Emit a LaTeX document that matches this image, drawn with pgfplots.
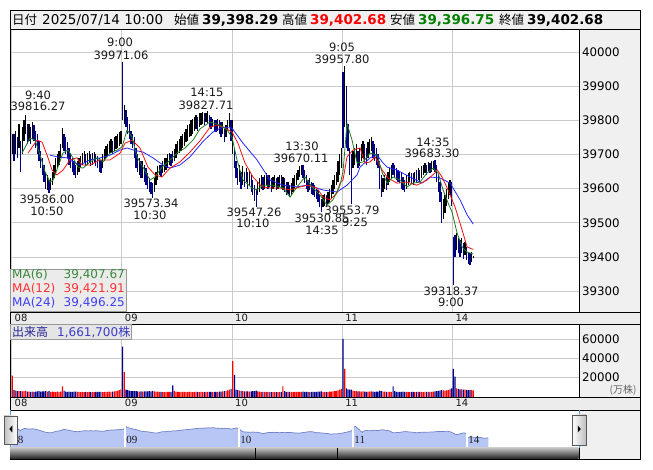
\documentclass[border=0pt]{standalone}
\usepackage{fontspec}
\setmainfont{DejaVu Sans}
\newfontfamily\jp{Noto Sans CJK JP}
\newfontfamily\ser{Liberation Serif}
\usepackage{pgfplots}
\usepackage{pgfplotstable}
\pgfplotsset{compat=1.18}

\definecolor{navy}{HTML}{000080}
\definecolor{volred}{HTML}{FF0000}
\definecolor{volblue}{HTML}{00008C}
\definecolor{maG}{HTML}{1F7A1F}
\definecolor{maR}{HTML}{F01010}
\definecolor{maB}{HTML}{2424FF}
\definecolor{panel}{HTML}{F0F0F0}
\definecolor{strip}{HTML}{ECECEC}
\definecolor{gridc}{HTML}{CACACA}
\definecolor{areaf}{HTML}{B8C6F6}
\definecolor{areal}{HTML}{7080C4}
\definecolor{txt}{HTML}{1A1A1A}
\definecolor{upg}{HTML}{008000}
\definecolor{legG}{HTML}{3A8A3A}
\definecolor{legR}{HTML}{FF3030}
\definecolor{legB}{HTML}{4040F0}
\definecolor{volt}{HTML}{282896}
\definecolor{volv}{HTML}{3C3CC8}

\newcommand\ann{\fontsize{11.5}{12}\selectfont}

% i = 5-minute bar index (66 bars per day), c = 1 up / 0 down, v = volume
\pgfplotstableread{
i lo hi c v
0 39700 39760 1 22000
1 39680 39760 0 7000
2 39700 39770 1 6500
3 39690 39750 0 6000
4 39720 39790 1 6000
5 39650 39740 0 6200
6 39700 39780 1 5800
7 39740 39800 1 6000
8 39760 39816 1 6300
9 39730 39790 0 5600
10 39740 39790 1 5500
11 39730 39780 0 5400
12 39745 39795 1 5600
13 39740 39785 0 5200
14 39720 39770 0 5500
15 39700 39760 0 5800
16 39680 39740 0 6000
17 39660 39710 0 5600
18 39640 39690 0 5900
19 39620 39670 0 5700
20 39600 39650 0 6100
21 39595 39640 1 5500
22 39586 39625 0 6000
23 39595 39630 1 5300
24 39610 39650 1 5600
25 39630 39670 1 5400
26 39645 39690 1 5200
27 39660 39700 1 5500
28 39670 39710 1 5300
29 39690 39730 1 5600
30 39720 39778 1 11000
31 39710 39760 0 6500
32 39700 39750 0 5600
33 39690 39735 0 5400
34 39670 39720 0 5500
35 39660 39705 0 5300
36 39650 39690 0 5400
37 39640 39680 0 5500
38 39632 39670 0 5600
39 39640 39680 1 5200
40 39650 39690 1 5300
41 39660 39695 1 5100
42 39670 39705 1 5200
43 39675 39710 1 5000
44 39665 39700 0 5300
45 39670 39705 1 5100
46 39675 39710 1 5200
47 39665 39700 0 5000
48 39670 39705 1 5300
49 39675 39708 1 5100
50 39665 39700 0 5200
51 39660 39695 0 5400
52 39650 39690 0 5200
53 39645 39685 0 5300
54 39660 39700 1 5100
55 39680 39715 1 5200
56 39690 39725 1 5400
57 39695 39730 1 5300
58 39700 39740 1 5500
59 39705 39745 1 5200
60 39700 39740 0 5600
61 39710 39750 1 5800
62 39715 39755 1 6000
63 39720 39760 1 6400
64 39725 39765 1 7000
65 39730 39770 1 8000
66 39800 39971 0 52000
67 39790 39845 1 26000
68 39780 39830 0 7500
69 39760 39810 0 7000
70 39745 39790 0 6500
71 39730 39770 0 6000
72 39720 39760 0 6000
73 39690 39750 0 6200
74 39660 39720 0 6000
75 39650 39700 0 5800
76 39640 39690 1 5600
77 39630 39680 0 5900
78 39630 39680 1 5600
79 39620 39670 0 5800
80 39610 39660 0 5700
81 39600 39645 0 5900
82 39590 39630 0 6000
83 39585 39620 0 5800
84 39573 39615 0 6100
85 39590 39630 1 5700
86 39610 39650 1 5600
87 39625 39665 1 5500
88 39640 39670 1 5300
89 39635 39670 0 5200
90 39645 39680 1 5300
91 39650 39690 1 5100
92 39655 39690 1 5200
93 39660 39700 1 5300
94 39670 39705 1 5400
95 39665 39700 0 5200
96 39675 39710 0 12000
97 39680 39715 1 6200
98 39690 39730 1 5500
99 39700 39740 1 5300
100 39705 39745 1 5200
101 39710 39755 1 5400
102 39720 39760 1 5300
103 39725 39765 1 5200
104 39735 39775 1 5100
105 39740 39785 1 5300
106 39750 39790 1 5200
107 39755 39800 1 5400
108 39760 39805 1 5100
109 39770 39810 1 5300
110 39775 39815 1 5200
111 39770 39810 0 5400
112 39780 39820 1 5100
113 39785 39820 1 5200
114 39790 39825 1 5300
115 39785 39820 0 5000
116 39795 39822 1 5200
117 39790 39828 1 5400
118 39780 39815 0 5300
119 39775 39810 0 5200
120 39780 39805 1 5000
121 39770 39800 0 5300
122 39765 39800 0 5400
123 39770 39805 1 5200
124 39760 39800 0 5500
125 39750 39795 0 5600
126 39760 39795 1 5800
127 39735 39775 0 6000
128 39750 39785 1 6300
129 39770 39800 1 6800
130 39780 39821 1 7500
131 39740 39800 0 8500
132 39700 39800 1 37000
133 39660 39720 0 23000
134 39630 39680 0 7500
135 39610 39660 0 7000
136 39620 39670 1 6500
137 39600 39650 0 6300
138 39610 39665 1 6000
139 39605 39650 0 5900
140 39620 39660 1 5800
141 39600 39650 0 5700
142 39610 39655 1 5600
143 39590 39640 0 5800
144 39580 39625 0 6000
145 39565 39610 0 6200
146 39547 39600 0 6500
147 39580 39620 1 5800
148 39590 39630 1 5600
149 39600 39640 1 5400
150 39595 39635 0 5300
151 39600 39640 1 5200
152 39610 39645 1 5300
153 39600 39640 0 5100
154 39605 39640 1 5200
155 39590 39630 0 5000
156 39600 39635 1 5100
157 39605 39640 1 5200
158 39595 39630 0 5000
159 39600 39635 1 5100
160 39605 39640 1 5000
161 39600 39640 0 5200
162 39595 39635 1 11000
163 39590 39630 0 6000
164 39580 39620 0 5300
165 39585 39620 1 5200
166 39575 39610 0 5400
167 39580 39615 1 5200
168 39590 39630 1 5100
169 39600 39640 1 5200
170 39610 39645 1 5300
171 39625 39655 1 5400
172 39635 39665 1 5300
173 39640 39668 1 5200
174 39630 39670 0 5500
175 39615 39655 0 5400
176 39600 39640 0 5300
177 39590 39625 0 5200
178 39595 39630 1 5100
179 39585 39620 0 5200
180 39580 39615 0 5300
181 39575 39610 0 5200
182 39570 39600 0 5400
183 39560 39595 0 5500
184 39545 39585 0 5600
185 39531 39570 0 5800
186 39545 39580 1 5400
187 39550 39585 1 5300
188 39545 39580 0 5200
189 39555 39590 1 5400
190 39560 39600 1 5500
191 39570 39610 1 5600
192 39585 39625 1 5800
193 39600 39640 1 6000
194 39610 39650 1 6300
195 39620 39680 1 6800
196 39640 39700 1 7500
197 39660 39720 1 8500
198 39720 39940 0 60000
199 39780 39958 1 29000
200 39720 39900 0 9000
201 39710 39790 0 8000
202 39640 39720 0 7500
203 39554 39700 0 7500
204 39660 39710 1 6500
205 39670 39720 1 6200
206 39680 39730 1 6000
207 39660 39710 0 5800
208 39665 39720 1 5700
209 39680 39730 1 5600
210 39690 39740 1 5800
211 39680 39730 0 5500
212 39670 39720 0 5400
213 39690 39735 1 5500
214 39700 39745 1 5600
215 39710 39750 1 5700
216 39690 39740 0 5500
217 39680 39730 0 5400
218 39670 39720 0 5500
219 39660 39700 0 5600
220 39600 39680 0 6500
221 39575 39640 0 6200
222 39590 39630 1 5600
223 39600 39640 1 5500
224 39595 39635 0 5400
225 39610 39650 1 5300
226 39620 39660 1 5200
227 39630 39670 1 5300
228 39640 39675 0 11000
229 39630 39670 0 6200
230 39625 39660 0 5300
231 39620 39655 0 5200
232 39615 39650 0 5300
233 39600 39645 0 5400
234 39595 39635 0 5500
235 39590 39625 0 5300
236 39600 39640 1 5200
237 39610 39645 1 5300
238 39620 39650 1 5100
239 39615 39645 0 5200
240 39610 39645 0 5300
241 39620 39650 1 5100
242 39615 39655 0 5200
243 39625 39660 1 5300
244 39620 39655 0 5200
245 39630 39665 1 5300
246 39640 39670 1 5100
247 39645 39675 1 5200
248 39640 39670 0 5300
249 39650 39678 1 5200
250 39645 39675 0 5400
251 39650 39680 1 5300
252 39655 39680 1 5500
253 39650 39683 0 5700
254 39620 39670 0 6000
255 39590 39640 0 6300
256 39560 39620 0 6500
257 39500 39590 0 7000
258 39510 39570 1 6800
259 39530 39580 1 6500
260 39550 39600 1 6800
261 39570 39620 1 7200
262 39580 39625 1 7800
263 39550 39620 0 9000
264 39318 39458 0 29000
265 39400 39465 0 21000
266 39420 39470 1 9000
267 39410 39455 0 8500
268 39400 39450 0 8000
269 39410 39455 1 7800
270 39395 39440 0 7500
271 39405 39445 1 7600
272 39390 39430 0 7400
273 39380 39415 0 7200
274 39375 39410 0 7300
275 39385 39415 1 7000
276 39396 39403 1 6800
}\pricedata

\pgfplotsset{
  panelaxis/.style={
    anchor=south west, scale only axis, width=569pt,
    xmin=-0.9, xmax=339.8,
    axis line style={draw=none}, tick style={draw=none}, major tick length=0pt,
    xtick={0,66,132,198,264}, xticklabels={08,09,10,11,14},
    xticklabel style={anchor=west, inner sep=0pt, xshift=3pt, yshift=-6pt, text=txt,
      font=\fontsize{10}{10}\selectfont},
    ytick pos=right,
    yticklabel style={anchor=west, inner sep=0pt, xshift=3pt, text=black,
      font=\fontsize{11.8}{12}\selectfont},
    /pgf/number format/assume math mode=true, /pgf/number format/1000 sep={},
    scaled y ticks=false,
    xmajorgrids, ymajorgrids, grid style={gridc, line width=0.6pt},
  },
  candle/.style={draw=none, mark=none,
    restrict expr to domain={\thisrow{c}}{#1:#1},
    error bars/y dir=plus, error bars/y explicit, error bars/error mark=none},
}

\begin{document}
\begin{tikzpicture}
\begin{scope}[x=1pt, y=1pt]
\path (0,0) rectangle (653,470);
% backgrounds
\fill[panel] (10,441) rectangle (640,460);
\fill[panel] (579,158) rectangle (640,441);
\fill[strip] (10,146) rectangle (640,158);
\fill[panel] (579,73) rectangle (640,146);
\fill[strip] (10,60) rectangle (640,73);
\fill[panel] (579,11) rectangle (640,60);
\end{scope}

% price panel
\begin{axis}[panelaxis, at={(10pt,158pt)}, height=283pt,
    ymin=39238.7, ymax=40067.3, ytick={39300,39400,...,40000}]
  \addplot[candle=1, error bars/error bar style={draw=black, line width=1.3pt}]
    table[x expr=\thisrow{i}+0.5, y=lo, y error expr=\thisrow{hi}-\thisrow{lo}] {\pricedata};
  \addplot[candle=0, error bars/error bar style={draw=navy, line width=1.3pt}]
    table[x expr=\thisrow{i}+0.5, y=lo, y error expr=\thisrow{hi}-\thisrow{lo}] {\pricedata};
  \addplot[black, line width=1.3pt] coordinates {(-0.5,39200) (-0.5,39680)};
  % MA(24)
  \addplot[maB, line width=0.8pt] table {
    x y
    23.1 39698
    27.2 39693
    33.2 39690
    36.8 39678
    41.0 39669
    47.0 39684
    53.0 39690
    59.0 39698
    65.0 39713
    69.2 39719
    72.8 39713
    78.7 39707
    84.7 39690
    90.7 39669
    94.9 39660
    100.9 39669
    106.9 39693
    114.7 39738
    120.7 39766
    126.6 39780
    132.0 39777
    138.6 39733
    147.0 39684
    154.8 39625
    162.6 39610
    171.0 39605
    176.9 39610
    186.5 39596
    194.9 39590
    200.9 39610
    206.9 39640
    208.7 39663
    214.7 39690
    218.9 39698
    222.5 39675
    224.9 39663
    230.8 39654
    238.6 39634
    245.8 39616
    250.6 39634
    256.6 39631
    262.6 39616
    268.6 39567
    272.8 39523
    276.5 39496
  };
  % MA(12)
  \addplot[maR, line width=0.8pt] table {
    x y
    9.9 39704
    15.3 39742
    18.3 39736
    21.3 39698
    24.3 39654
    27.2 39640
    30.8 39654
    35.0 39684
    39.2 39690
    42.2 39669
    47.0 39669
    53.0 39684
    59.0 39684
    65.0 39704
    68.0 39733
    72.2 39742
    76.9 39719
    81.7 39663
    85.9 39640
    90.1 39634
    94.9 39660
    100.9 39678
    106.9 39707
    112.9 39740
    118.9 39780
    123.1 39786
    126.6 39780
    132.0 39766
    135.6 39733
    139.8 39675
    144.6 39634
    150.0 39605
    154.8 39602
    160.8 39602
    166.8 39596
    172.8 39605
    177.5 39610
    182.9 39602
    186.5 39575
    190.7 39567
    194.9 39587
    196.7 39616
    198.5 39625
    200.9 39693
    204.5 39713
    208.7 39719
    211.7 39675
    214.7 39678
    217.7 39693
    222.0 39654
    225.4 39631
    230.8 39616
    236.8 39619
    242.8 39610
    248.8 39625
    253.6 39646
    254.8 39655
    257.8 39634
    261.4 39596
    265.6 39546
    269.8 39479
    272.8 39429
    276.5 39422
  };
  % MA(6)
  \addplot[maG, line width=0.8pt] table {
    x y
    6.3 39704
    11.1 39748
    14.1 39742
    17.1 39698
    20.1 39649
    23.1 39619
    24.9 39625
    27.8 39663
    30.8 39704
    33.8 39713
    36.8 39690
    39.8 39663
    42.8 39660
    47.0 39678
    51.2 39690
    54.8 39678
    59.0 39704
    63.2 39713
    66.2 39722
    69.2 39772
    72.2 39751
    75.1 39693
    78.7 39663
    82.9 39625
    85.9 39634
    90.1 39663
    93.7 39678
    99.1 39704
    103.9 39719
    108.7 39742
    112.9 39775
    118.9 39795
    124.9 39786
    129.0 39772
    132.0 39751
    135.0 39684
    138.6 39625
    144.0 39602
    147.0 39596
    150.6 39610
    156.6 39610
    162.6 39602
    166.8 39575
    171.0 39605
    175.7 39634
    179.9 39605
    184.7 39581
    188.9 39552
    192.5 39567
    196.7 39610
    198.5 39650
    200.9 39790
    203.9 39742
    206.9 39675
    210.5 39678
    214.7 39704
    218.9 39698
    222.0 39646
    225.0 39616
    228.4 39634
    232.6 39625
    236.8 39605
    240.4 39616
    244.6 39619
    248.8 39646
    252.4 39660
    255.4 39646
    258.4 39596
    261.4 39558
    263.8 39531
    266.8 39470
    269.8 39429
    272.8 39414
    276.5 39408
  };
\end{axis}

% volume panel
\begin{axis}[panelaxis, at={(10pt,73pt)}, height=73pt,
    ymin=0, ymax=75517, ytick={20000,40000,60000}]
  \addplot[ybar, bar width=1.2pt, bar shift=0pt, fill=volred, draw=none,
    restrict expr to domain={\thisrow{c}}{1:1}]
    table[x expr=\thisrow{i}+0.5, y=v] {\pricedata};
  \addplot[ybar, bar width=1.2pt, bar shift=0pt, fill=volblue, draw=none,
    restrict expr to domain={\thisrow{c}}{0:0}]
    table[x expr=\thisrow{i}+0.5, y=v] {\pricedata};
\end{axis}

% overview strip
\begin{axis}[at={(10pt,22pt)}, anchor=south west, scale only axis, width=569pt, height=38pt,
    xmin=-0.4, xmax=329, ymin=39000, ymax=40520,
    axis line style={draw=none}, tick style={draw=none}, major tick length=0pt,
    ytick=\empty, xtick={0,66,132,198,264}, xticklabels={08,09,10,11,14},
    xticklabel style={anchor=west, inner sep=0pt, xshift=1.5pt, yshift=8pt, text=txt,
      font=\ser\fontsize{11}{11}\selectfont},
    xmajorgrids, grid style={white, line width=1.6pt}, axis on top]
  \addplot[fill=areaf, draw=none]
    table[x expr=\thisrow{i}+0.5, y expr=(\thisrow{lo}+\thisrow{hi})/2] {\pricedata} \closedcycle;
  \addplot[areal, line width=0.7pt]
    table[x expr=\thisrow{i}+0.5, y expr=(\thisrow{lo}+\thisrow{hi})/2] {\pricedata};
\end{axis}

\begin{scope}[x=1pt, y=1pt]
% frames
\begin{scope}[line width=0.8pt, black]
  \draw (10,441) -- (640,441);
  \draw (10,158) -- (640,158);
  \draw (10,146) -- (640,146);
  \draw (10,73) -- (640,73);
  \draw (10,60) -- (640,60);
  \draw (579,158) -- (579,441);
  \draw (579,73) -- (579,146);
  \draw (579,11) -- (579,22);
  \draw (10,11) rectangle (640,460);
\end{scope}
\draw[cyan!60!blue!70, line width=0.6pt] (10.4,22) -- (10.4,59.6) (579,22) -- (579,59.6);

% scrollbar
\shade[top color=black!25, bottom color=black!85] (10.4,11.4) rectangle (578.6,22);
\draw[black, line width=0.5pt] (255,11.4) -- (255,22) (337,11.4) -- (337,22);
\shade[left color=black!25, right color=white, draw=black!65] (4,26) rectangle (17,54);
\fill[black] (12.3,37.5) -- (12.3,44.5) -- (9.3,41) -- cycle;
\shade[left color=white, right color=black!25, draw=black!65] (572,25) rectangle (586,55);
\fill[black] (577.8,37.5) -- (577.8,44.5) -- (580.8,41) -- cycle;

% header
\node[anchor=base west, inner sep=0pt, font=\jp\fontsize{12.5}{13}\selectfont] at (12,445.5) {日付};
\node[anchor=base west, inner sep=0pt, font=\fontsize{13.5}{14}\selectfont] at (42,445.5) {2025/07/14 10:00};
\node[anchor=base west, inner sep=0pt, font=\jp\fontsize{12.5}{13}\selectfont] at (174,445.5) {始値};
\node[anchor=base west, inner sep=0pt, font=\bfseries\fontsize{13.5}{14}\selectfont] at (202,445.5) {39,398.29};
\node[anchor=base west, inner sep=0pt, font=\jp\fontsize{12.5}{13}\selectfont] at (282,445.5) {高値};
\node[anchor=base west, inner sep=0pt, text=red, font=\bfseries\fontsize{13.5}{14}\selectfont] at (310,445.5) {39,402.68};
\node[anchor=base west, inner sep=0pt, font=\jp\fontsize{12.5}{13}\selectfont] at (390,445.5) {安値};
\node[anchor=base west, inner sep=0pt, text=upg, font=\bfseries\fontsize{13.5}{14}\selectfont] at (418,445.5) {39,396.75};
\node[anchor=base west, inner sep=0pt, font=\jp\fontsize{12.5}{13}\selectfont] at (499,445.5) {終値};
\node[anchor=base west, inner sep=0pt, font=\bfseries\fontsize{13.5}{14}\selectfont] at (527,445.5) {39,402.68};

% high / low annotations
\begin{scope}[every node/.style={inner sep=0pt, text=txt, font=\ann}]
  \node at (38,374.5) {9:40};      \node at (38,364) {39816.27};
  \node at (120,428) {9:00};       \node at (121,415) {39971.06};
  \node at (207,378) {14:15};      \node at (206,365) {39827.71};
  \node at (47,271) {39586.00};    \node at (47,258.5) {10:50};
  \node at (151,267) {39573.34};   \node at (150,255) {10:30};
  \node at (254,258) {39547.26};   \node at (253,247) {10:10};
  \node at (302,324) {13:30};      \node at (301,312) {39670.11};
  \node at (322,252) {39530.85};   \node at (322,240) {14:35};
  \node at (352,260) {39553.79};   \node at (355,248) {9:25};
  \node at (342,423) {9:05};       \node at (342,411) {39957.80};
  \node at (433,328) {14:35};      \node at (432,317) {39683.30};
  \node at (451,179) {39318.37};   \node at (451,168) {9:00};
\end{scope}

% moving-average legend
\filldraw[fill=black!8, draw=black!40, line width=0.6pt] (10.4,158.4) rectangle (126,201);
\begin{scope}[every node/.style={inner sep=0pt, font=\fontsize{12}{12}\selectfont}]
  \node[anchor=west, text=legG] at (12,195) {MA(6)};
  \node[anchor=east, text=legG] at (125,195) {39,407.67};
  \node[anchor=west, text=legR] at (12,181) {MA(12)};
  \node[anchor=east, text=legR] at (125,181) {39,421.91};
  \node[anchor=west, text=legB] at (12,167) {MA(24)};
  \node[anchor=east, text=legB] at (125,167) {39,496.25};
\end{scope}

% volume label
\filldraw[fill=black!10, draw=black!40, line width=0.6pt] (10.4,131) rectangle (131,145.6);
\node[anchor=west, inner sep=0pt, text=volt, font=\jp\fontsize{12}{12}\selectfont] at (12,138) {出来高};
\node[anchor=west, inner sep=0pt, text=volv, font=\fontsize{12}{12}\selectfont] at (57,138) {1,661,700{\jp 株}};
\node[inner sep=0pt, text=black!60, font=\jp\fontsize{10}{10}\selectfont] at (623,80) {(万株)};
\end{scope}
\end{tikzpicture}
\end{document}
